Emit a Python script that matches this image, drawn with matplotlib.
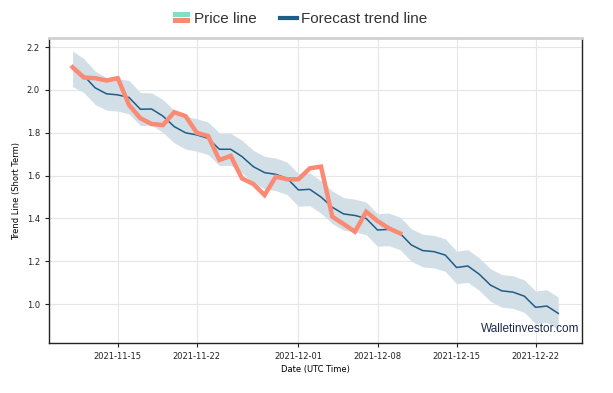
#!/usr/bin/env python3
"""
Short term trend line - price vs forecast with confidence band
"""

import numpy as np
import pandas as pd
import matplotlib
matplotlib.use("Agg")
import matplotlib.pyplot as plt
import matplotlib.dates as mdates
from matplotlib.legend_handler import HandlerBase
from matplotlib.patches import Rectangle

# Forecast trend (daily, 2021-11-11 .. 2021-12-24)
forecast_dates = pd.date_range("2021-11-11", "2021-12-24", freq="D")
forecast = [2.10, 2.066, 2.01, 1.982, 1.977, 1.965, 1.91, 1.911, 1.878, 1.829,
            1.80, 1.79, 1.774, 1.723, 1.723, 1.689, 1.642, 1.614, 1.606, 1.587,
            1.533, 1.536, 1.50, 1.452, 1.421, 1.414, 1.40, 1.346, 1.349, 1.330,
            1.276, 1.250, 1.245, 1.229, 1.171, 1.178, 1.140, 1.089, 1.062, 1.056,
            1.037, 0.985, 0.991, 0.957]
upper = [2.182, 2.146, 2.088, 2.058, 2.053, 2.044, 1.988, 1.986, 1.955, 1.905,
         1.876, 1.866, 1.850, 1.799, 1.798, 1.765, 1.718, 1.690, 1.682, 1.663,
         1.609, 1.612, 1.576, 1.528, 1.497, 1.490, 1.476, 1.422, 1.425, 1.406,
         1.352, 1.326, 1.321, 1.305, 1.247, 1.254, 1.216, 1.165, 1.138, 1.132,
         1.113, 1.061, 1.067, 1.033]
lower = [2.016, 1.988, 1.932, 1.906, 1.901, 1.888, 1.834, 1.836, 1.802, 1.753,
         1.724, 1.714, 1.698, 1.647, 1.648, 1.613, 1.566, 1.538, 1.530, 1.511,
         1.457, 1.460, 1.424, 1.376, 1.345, 1.338, 1.324, 1.270, 1.273, 1.254,
         1.200, 1.174, 1.169, 1.153, 1.095, 1.102, 1.064, 1.013, 0.986, 0.980,
         0.961, 0.909, 0.915, 0.881]

# Price (daily, 2021-11-11 .. 2021-12-10)
price_dates = pd.date_range("2021-11-11", "2021-12-10", freq="D")
price = [2.106, 2.058, 2.055, 2.044, 2.055, 1.93, 1.868, 1.841, 1.836, 1.896,
         1.878, 1.80, 1.785, 1.673, 1.692, 1.587, 1.561, 1.509, 1.595, 1.583,
         1.583, 1.634, 1.642, 1.408, 1.374, 1.338, 1.431, 1.388, 1.354, 1.330]

tick_dates = pd.to_datetime(["2021-11-15", "2021-11-22", "2021-12-01",
                             "2021-12-08", "2021-12-15", "2021-12-22"])

price_color = '#fa8a74'
price_color2 = '#7fe0c2'
trend_color = '#1f5c87'


class TwoTone(HandlerBase):
    # legend swatch: green bar over salmon bar
    def create_artists(self, legend, orig_handle, xdescent, ydescent,
                       width, height, fontsize, trans):
        h = height * 0.40
        top = Rectangle((-xdescent, -ydescent + height / 2 + 0.6), width, h,
                        facecolor=price_color2, edgecolor='none', transform=trans)
        bot = Rectangle((-xdescent, -ydescent + height / 2 - h - 0.6), width, h,
                        facecolor=price_color, edgecolor='none', transform=trans)
        return [top, bot]


fig = plt.figure(figsize=(6.13, 3.93), dpi=100)
ax = fig.add_axes([0.080, 0.127, 0.869, 0.776])

ax.fill_between(forecast_dates, lower, upper, color='#d3dfe6', linewidth=0)
ax.plot(forecast_dates, forecast, color=trend_color, linewidth=1.1)
ax.plot(price_dates, price, color=price_color, linewidth=3.2,
        solid_joinstyle='miter')

ax.set_xlim(pd.Timestamp("2021-11-08 22:00"), pd.Timestamp("2021-12-26 02:00"))
ax.set_ylim(0.818, 2.242)
ax.set_xticks(tick_dates)
ax.xaxis.set_major_formatter(mdates.DateFormatter('%Y-%m-%d'))
ax.set_yticks([1.0, 1.2, 1.4, 1.6, 1.8, 2.0, 2.2])
ax.tick_params(labelsize=6, length=3, width=0.8, colors='#222222')
ax.grid(True, color='#e6e6e6', linewidth=0.8)
ax.set_axisbelow(True)

for s in ['left', 'bottom', 'right']:
    ax.spines[s].set_color('#222222')
    ax.spines[s].set_linewidth(1.0)
ax.spines['top'].set_color('#d0d0d0')
ax.spines['top'].set_linewidth(2.0)

ax.set_xlabel('Date (UTC Time)', fontsize=6, labelpad=3)
ax.set_ylabel('Trend Line (Short Term)', fontsize=6, labelpad=4)

ax.text(0.995, 0.045, 'Walletinvestor.com', transform=ax.transAxes,
        ha='right', va='center', fontsize=8.5, color='#1c2a4c',
        family='Liberation Sans')

price_handle = Rectangle((0, 0), 1, 1)
trend_handle = plt.Line2D([], [], color=trend_color, linewidth=3)
fig.legend([price_handle, trend_handle], ['Price line', 'Forecast trend line'],
           handler_map={Rectangle: TwoTone()},
           loc='center', bbox_to_anchor=(0.49, 0.952), ncol=2, frameon=False,
           prop={'family': 'Liberation Sans', 'size': 11},
           handlelength=1.1, handletextpad=0.3, columnspacing=1.5,
           labelcolor='#333333')

plt.savefig('out.png', dpi=100)
plt.close()
